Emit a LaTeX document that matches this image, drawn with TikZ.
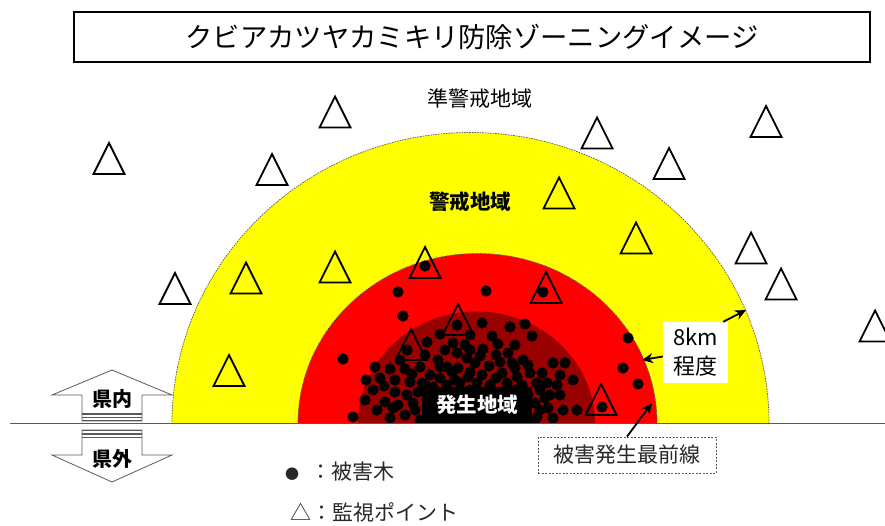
\documentclass[tikz,border=0pt]{standalone}
\usepackage{fontspec}
\setmainfont{Noto Sans CJK JP}
\usetikzlibrary{arrows.meta,calc}
\definecolor{yel}{RGB}{255,255,0}
\definecolor{redz}{RGB}{255,0,0}
\definecolor{darkz}{RGB}{153,0,0}
\definecolor{edge}{RGB}{90,90,90}
\definecolor{legtext}{RGB}{40,40,40}
\tikzset{
  zoneedge/.style={draw=edge, dash pattern=on 1.6pt off 1pt, line width=0.7pt},
  tri/.style={draw=black, line width=1.8pt, line join=miter},
  dot/.style={fill=black},
  lab/.style={font=\fontsize{21}{25}\selectfont, inner sep=0pt},
  blab/.style={font=\bfseries\fontsize{20.5}{25}\selectfont, inner sep=0pt},
  arr/.style={draw=black, line width=1.8pt, -{Stealth[length=11pt,width=10pt]}},
  bigarrow/.style={fill=white, draw=edge, line width=0.8pt, line join=miter},
  stripe/.style={draw=edge, line width=1.3pt},
}
\begin{document}
\begin{tikzpicture}[x=1pt,y=-1pt]
\useasboundingbox (0,0) rectangle (885,525);

% zones
\begin{scope}
  \clip (0,0) rectangle (885,423.5);
  \fill[yel] (470.5,423.5) ellipse [x radius=298.5pt, y radius=291pt];
  \draw[zoneedge] (470.5,423.5) ellipse [x radius=298.5pt, y radius=291pt];
  \fill[redz] (477.5,423.5) ellipse [x radius=179.5pt, y radius=170pt];
  \draw[zoneedge] (477.5,423.5) ellipse [x radius=179.5pt, y radius=170pt];
  \fill[darkz] (476.5,423.5) ellipse [x radius=118.5pt, y radius=112pt];
  % damaged trees
  \foreach \p in {(425,266),(398,292),(486,291),(543,292),(403,316),(343,359),
    (457,325),(482,323),(510,327),(525,324),(532,336),(628,338),(623,368),(638,384),
    (602,407),(407,350),
    (427,342),(453,343),(465,345),(445,350),(457,353),(483,349),(498,344),(425,355),
    (438,360),(467,358),(508,353),(523,360),(375,367),(390,369),(405,369),(420,367),
    (447,367),(458,368),(475,363),(489,366),(512,363),(530,373),(542,373),(553,363),
    (565,363),(573,380),(430,375),(440,378),(455,380),(468,377),(482,375),(502,373),
    (517,377),(410,382),(422,383),(433,387),(447,385),(460,383),(477,383),(490,385),
    (507,383),(522,385),(537,383),(547,383),(373,390),(395,392),(407,395),(550,395),
    (560,395),(385,402),(398,405),(413,403),(535,403),(548,408),(377,410),(393,408),
    (405,415),(390,418),(537,417),(553,418),(563,410),(577,410),(353,417),(418,392),
    (528,394),(470,372),(496,378),(450,392),(505,392),
    (425,385),(540,390),(415,410),(540,410),(420,420),(535,420),(470,390),(485,392),
    (460,395),(515,390),(440,367),(500,362),(515,368),(480,356),(470,350),(492,336),
    (440,334),(470,335),(515,345),(395,380),(384,386),(400,360),(545,398),(557,385),
    (380,378),(365,400),(366,380),(452,372),(528,365),(412,374),(496,355),(560,375)}
    \fill[dot] \p circle (5.6pt);
\end{scope}

% core label
\node[blab, fill=black, text=white, minimum width=110pt, minimum height=36pt] (core) at (477,405) {発生地域};

% monitoring points
\foreach \x/\y in {335/112,109/158.5,272/169.5,597/133,766/121.5,669/163.5,559/193,
  636/238,751/248,781/284,175/288.5,246/278,229/370.5,335/267,425/262.5,546/287.5,
  458/319.5,411/344.5,601/399.5,875/326}
  \draw[tri] (\x,\y-15.5) -- (\x+15.5,\y+15.5) -- (\x-15.5,\y+15.5) -- cycle;

% ground line
\draw[draw=edge, line width=1.2pt] (10,423.5) -- (885,423.5);

% prefecture arrows
\draw[bigarrow] (112,370) -- (172,395) -- (142,395) -- (142,421) -- (82,421) -- (82,395) -- (52,395) -- cycle;
\draw[bigarrow] (82,430) -- (142,430) -- (142,455) -- (172,455) -- (112,482) -- (52,455) -- (82,455) -- cycle;
\foreach \yy in {414,417.3,420.6,430.6,433.9,437.2}
  \draw[stripe] (82,\yy) -- (142,\yy);
\node[blab, font=\bfseries\fontsize{20}{24}\selectfont] (inside) at (112,399) {県内};
\node[blab, font=\bfseries\fontsize{20}{24}\selectfont] (outside) at (112,459) {県外};

% title
\node[draw=black, line width=1.8pt, minimum width=796pt, minimum height=50pt, inner sep=0pt,
  font=\fontsize{27.3}{30}\selectfont] (title) at (472,37) {クビアカツヤカミキリ防除ゾーニングイメージ};

% zone labels
\node[lab] (prewarn) at (480,98) {準警戒地域};
\node[blab] (warn) at (470,202) {警戒地域};

% 8km label
\node[lab, fill=white, minimum width=65pt, minimum height=61pt, align=center,
  font=\fontsize{22}{29}\selectfont] (km) at (695.5,352.5) {8km\\程度};
\coordinate (tipR) at (642,360);
\coordinate (tipY) at (746,310);
\draw[arr] ([yshift=-4pt]km.west) -- (tipR);
\draw[arr] ([xshift=-5pt]km.north east) -- (tipY);

% front line label
\node[lab, fill=white, draw=edge, dash pattern=on 2pt off 1.5pt, line width=0.8pt,
  minimum width=178pt, minimum height=36pt, text=legtext] (front) at (627,455) {被害発生最前線};
\coordinate (tipF) at (652,403);
\draw[arr] (front.north) -- (tipF);

% legend
\node[lab, anchor=west, text=legtext] (leg1) at (285,472) {{\fontsize{14}{14}\selectfont ●}\hspace{11pt}：被害木};
\node[lab, anchor=west, text=legtext] (leg2) at (290,512) {△：監視ポイント};
\end{tikzpicture}
\end{document}
